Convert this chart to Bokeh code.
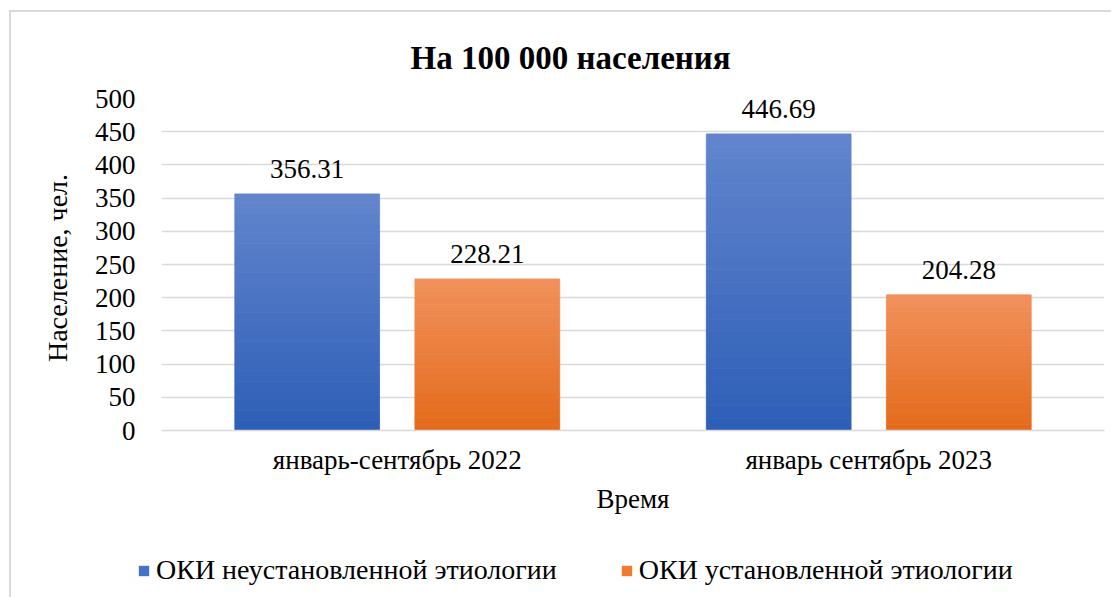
from bokeh.plotting import figure
from bokeh.layouts import column, row
from bokeh.models import (FactorRange, Range1d, SingleIntervalTicker, ColumnDataSource,
                          LabelSet, Legend, LegendItem)
from bokeh.transform import dodge
from bokeh.embed import file_html
from bokeh.resources import INLINE

# ---- data ----
categories = ["январь-сентябрь 2022", "январь сентябрь 2023"]
series_names = ["ОКИ неустановленной этиологии", "ОКИ установленной этиологии"]
unknown_etiology = [356.31, 446.69]
known_etiology = [228.21, 204.28]
y_ticks_interval = 50

FONT = "Liberation Serif"
BLUE = "#4472c4"
ORANGE = "#ee7c30"
BLUE_TOP, BLUE_BOT = (98, 133, 205), (45, 94, 183)
ORANGE_TOP, ORANGE_BOT = (241, 145, 92), (228, 106, 26)
GRID = "#d9d9d9"
N_SHADE = 24

src = ColumnDataSource(dict(
    cat=categories,
    v1=unknown_etiology,
    v2=known_etiology,
    l1=[f"{v:.2f}" for v in unknown_etiology],
    l2=[f"{v:.2f}" for v in known_etiology],
))

p = figure(x_range=FactorRange(factors=categories, range_padding=0),
           y_range=Range1d(0, 500),
           width=1100, height=530,
           min_border_left=150, min_border_right=7,
           min_border_top=86, min_border_bottom=112,
           output_backend="svg", toolbar_location=None,
           title="На 100 000 населения")

p.outline_line_color = None
p.background_fill_color = "white"
p.border_fill_color = "white"

# title
p.title.align = "left"
p.title.offset = 249
p.title.text_font = FONT
p.title.text_font_size = "33px"
p.title.text_font_style = "bold"
p.title.text_color = "black"
p.title.standoff = 46

off = 0.191
w = 0.307


def hexcol(top, bot, t):
    c = [round(b + (a - b) * t) for a, b in zip(top, bot)]
    return "#%02x%02x%02x" % tuple(c)


def shaded_bars(values, shift, top_c, bot_c):
    # each bar is filled bottom->top in thin bands to imitate the vertical gradient
    for k in range(N_SHADE):
        s = ColumnDataSource(dict(cat=categories,
                                  b=[v * k / N_SHADE for v in values],
                                  t=[v * (k + 1) / N_SHADE for v in values]))
        col = hexcol(top_c, bot_c, (k + 0.5) / N_SHADE)
        p.vbar(x=dodge("cat", shift, range=p.x_range), bottom="b", top="t", width=w,
               source=s, fill_color=col, line_color=col, line_width=0.8)


shaded_bars(unknown_etiology, -off, BLUE_TOP, BLUE_BOT)
shaded_bars(known_etiology, off, ORANGE_TOP, ORANGE_BOT)

lab1 = LabelSet(x=dodge("cat", -off, range=p.x_range), y="v1", text="l1", source=src,
                text_align="center", text_baseline="alphabetic", y_offset=16,
                text_font=FONT, text_font_size="27px", text_color="black")
lab2 = LabelSet(x=dodge("cat", off, range=p.x_range), y="v2", text="l2", source=src,
                text_align="center", text_baseline="alphabetic", y_offset=16,
                text_font=FONT, text_font_size="27px", text_color="black")
p.add_layout(lab1)
p.add_layout(lab2)

# grid
p.xgrid.grid_line_color = None
p.ygrid.grid_line_color = GRID
p.ygrid.grid_line_width = 1.5
p.yaxis.ticker = SingleIntervalTicker(interval=y_ticks_interval)

# y axis
p.yaxis.axis_line_color = None
p.yaxis.major_tick_line_color = None
p.yaxis.minor_tick_line_color = None
p.yaxis.major_tick_out = 0
p.yaxis.major_label_standoff = 22
p.yaxis.major_label_text_font = FONT
p.yaxis.major_label_text_font_size = "27px"
p.yaxis.major_label_text_color = "black"
p.yaxis.axis_label = "Население,  чел."
p.yaxis.axis_label_text_font = FONT
p.yaxis.axis_label_text_font_size = "28px"
p.yaxis.axis_label_text_font_style = "normal"
p.yaxis.axis_label_text_color = "black"
p.yaxis.axis_label_standoff = 19

# x axis
p.xaxis.axis_line_color = GRID
p.xaxis.axis_line_width = 1.5
p.xaxis.major_tick_line_color = None
p.xaxis.minor_tick_line_color = None
p.xaxis.major_tick_out = 0
p.xaxis.major_label_standoff = 14
p.xaxis.major_label_text_font = FONT
p.xaxis.major_label_text_font_size = "27px"
p.xaxis.major_label_text_color = "black"
p.xaxis.axis_label = "Время"
p.xaxis.axis_label_text_font = FONT
p.xaxis.axis_label_text_font_size = "27px"
p.xaxis.axis_label_text_font_style = "normal"
p.xaxis.axis_label_text_color = "black"
p.xaxis.axis_label_standoff = 6

# legend strip (separate figure with legend proxies in the series colours)
pl = figure(width=1100, height=55, output_backend="svg", toolbar_location=None,
            min_border=0, x_range=Range1d(0, 1), y_range=Range1d(0, 1))
pl.outline_line_color = None
pl.axis.visible = False
pl.grid.visible = False
proxy = ColumnDataSource(dict(x=[-5], t=[0]))
d1 = pl.vbar(x="x", top="t", width=0.0, source=proxy, fill_color=BLUE, line_color=None)
d2 = pl.vbar(x="x", top="t", width=0.0, source=proxy, fill_color=ORANGE, line_color=None)
legend = Legend(items=[LegendItem(label=series_names[0], renderers=[d1]),
                       LegendItem(label=series_names[1], renderers=[d2])],
                orientation="horizontal", location=(126, 11),
                glyph_width=13, glyph_height=13, label_standoff=6, spacing=63,
                padding=0, margin=0, border_line_color=None,
                background_fill_alpha=0,
                label_text_font=FONT, label_text_font_size="28px",
                label_text_color="black")
pl.add_layout(legend, "center")

layout = column(p, row(pl), spacing=0, margin=(10, 0, 0, 9),
                styles={"border-top": "2px solid #d9d9d9",
                        "border-left": "2px solid #d9d9d9"})

open("out.html", "w").write(file_html(layout, INLINE))
